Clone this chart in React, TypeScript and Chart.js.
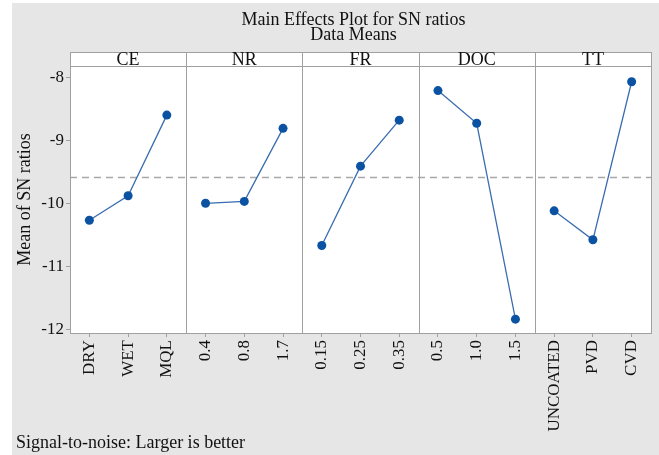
import React, { useEffect, useRef } from "react";
import { Chart, registerables } from "chart.js";

Chart.register(...registerables);

const FACTORS = ["CE", "NR", "FR", "DOC", "TT"];
const CE_LEVELS = ["DRY", "WET", "MQL"];
const NR_LEVELS = ["0.4", "0.8", "1.7"];
const FR_LEVELS = ["0.15", "0.25", "0.35"];
const DOC_LEVELS = ["0.5", "1.0", "1.5"];
const TT_LEVELS = ["UNCOATED", "PVD", "CVD"];

const CE_VALUES = [-10.26, -9.87, -8.59];
const NR_VALUES = [-9.99, -9.96, -8.8];
const FR_VALUES = [-10.66, -9.4, -8.67];
const DOC_VALUES = [-8.2, -8.72, -11.83];
const TT_VALUES = [-10.11, -10.57, -8.06];

const GRAND_MEAN = -9.58;
const Y_TICKS = [-12, -11, -10, -9, -8];
const Y_MIN = -12.05;
const Y_MAX = -7.81;

const TITLE_LINES = ["Main Effects Plot for SN ratios", "Data Means"];
const Y_TITLE = "Mean of SN ratios";
const FOOTER = "Signal-to-noise: Larger is better";

const LEVEL_GROUPS = [CE_LEVELS, NR_LEVELS, FR_LEVELS, DOC_LEVELS, TT_LEVELS];
const VALUE_GROUPS = [CE_VALUES, NR_VALUES, FR_VALUES, DOC_VALUES, TT_VALUES];

const FONT = "'Liberation Serif', 'Times New Roman', serif";
const FRAME = "#a0a0a0";
const HEADER_H = 14;

const panelPlugin = {
  id: "panels",
  beforeDraw(chart: any) {
    const { ctx, chartArea: ca } = chart;
    ctx.save();
    ctx.fillStyle = "#ffffff";
    ctx.fillRect(ca.left, ca.top - HEADER_H, ca.right - ca.left, ca.bottom - ca.top + HEADER_H);
    ctx.restore();
  },
  beforeDatasetsDraw(chart: any) {
    const { ctx, chartArea: ca, scales } = chart;
    const x = scales.x;
    const y = scales.y;
    ctx.save();
    // mean dashed line
    const my = Math.round(y.getPixelForValue(GRAND_MEAN)) + 0.5;
    ctx.strokeStyle = "#a8a8a8";
    ctx.lineWidth = 1.6;
    ctx.setLineDash([7, 5]);
    ctx.beginPath();
    ctx.moveTo(ca.left, my);
    ctx.lineTo(ca.right, my);
    ctx.stroke();
    ctx.setLineDash([]);

    // frame
    ctx.strokeStyle = FRAME;
    ctx.lineWidth = 1;
    const top = ca.top - HEADER_H;
    ctx.strokeRect(Math.round(ca.left) + 0.5, Math.round(top) + 0.5, Math.round(ca.right - ca.left), Math.round(ca.bottom - top));
    ctx.beginPath();
    ctx.moveTo(ca.left, Math.round(ca.top) + 0.5);
    ctx.lineTo(ca.right, Math.round(ca.top) + 0.5);
    ctx.stroke();

    // dividers
    const bounds: number[] = [ca.left];
    for (let i = 1; i < FACTORS.length; i++) {
      const bx = (x.getPixelForValue(3 * i - 1) + x.getPixelForValue(3 * i)) / 2;
      bounds.push(bx);
      ctx.beginPath();
      ctx.moveTo(Math.round(bx) + 0.5, top);
      ctx.lineTo(Math.round(bx) + 0.5, ca.bottom);
      ctx.stroke();
    }
    bounds.push(ca.right);

    // header text
    ctx.fillStyle = "#111";
    ctx.font = `18px ${FONT}`;
    ctx.textAlign = "center";
    ctx.textBaseline = "alphabetic";
    FACTORS.forEach((f, i) => {
      ctx.fillText(f, (bounds[i] + bounds[i + 1]) / 2, ca.top - 1);
    });
    ctx.restore();
  },
  afterDraw(chart: any) {
    const { ctx, chartArea: ca } = chart;
    ctx.save();
    ctx.fillStyle = "#111";
    ctx.font = `18px ${FONT}`;
    ctx.textAlign = "center";
    ctx.textBaseline = "alphabetic";
    const cx = (ca.left + ca.right) / 2 - 7;
    ctx.fillText(TITLE_LINES[0], cx, 25);
    ctx.fillText(TITLE_LINES[1], cx, 40);
    ctx.textAlign = "left";
    ctx.fillText(FOOTER, 16, 448);
    ctx.restore();
  },
};

export default function App() {
  const ref = useRef<HTMLCanvasElement>(null);

  useEffect(() => {
    const labels = LEVEL_GROUPS.flat();
    const datasets = FACTORS.map((f, i) => ({
      label: f,
      data: labels.map((_, j) => (Math.floor(j / 3) === i ? VALUE_GROUPS[i][j % 3] : null)),
      borderColor: "#3a6db0",
      borderWidth: 1.3,
      pointRadius: 4.5,
      pointHoverRadius: 4.5,
      pointBackgroundColor: "#0b52a3",
      pointBorderColor: "#0b52a3",
      pointBorderWidth: 0,
      spanGaps: false,
      tension: 0,
    }));

    const chart = new Chart(ref.current!, {
      type: "line",
      data: { labels, datasets },
      plugins: [panelPlugin],
      options: {
        responsive: false,
        animation: false,
        layout: { padding: { top: 66, right: 8, left: 0, bottom: 0 } },
        plugins: {
          legend: { display: false },
          tooltip: { enabled: false },
          title: { display: false },
        },
        scales: {
          x: {
            type: "category",
            offset: true,
            afterFit: (s: any) => {
              s.height = 122;
            },
            grid: {
              display: true,
              drawOnChartArea: false,
              drawTicks: true,
              tickLength: 4,
              color: FRAME,
              offset: false,
            },
            border: { display: false },
            ticks: {
              autoSkip: false,
              minRotation: 90,
              maxRotation: 90,
              padding: 3,
              color: "#111",
              font: { family: FONT, size: 17 },
            },
          },
          y: {
            type: "linear",
            min: Y_MIN,
            max: Y_MAX,
            afterFit: (s: any) => {
              s.width = 70;
            },
            afterBuildTicks: (s: any) => {
              s.ticks = Y_TICKS.map((v) => ({ value: v }));
            },
            grid: {
              display: true,
              drawOnChartArea: false,
              drawTicks: true,
              tickLength: 4,
              color: FRAME,
            },
            border: { display: false },
            ticks: {
              padding: 2,
              color: "#111",
              font: { family: FONT, size: 17 },
              callback: (v: any) => String(v),
            },
            title: {
              display: true,
              text: Y_TITLE,
              color: "#111",
              font: { family: FONT, size: 18 },
              padding: { top: 14, bottom: 0 },
            },
          },
        },
      },
    });
    return () => chart.destroy();
  }, []);

  return (
    <div style={{ position: "absolute", left: 0, top: 0, width: 659, height: 455, background: "#ffffff" }}>
      <div style={{ position: "absolute", left: 12, top: 3, width: 647, height: 452, background: "#e6e6e6" }} />
      <canvas ref={ref} width={659} height={455} style={{ position: "absolute", left: 0, top: 0 }} />
    </div>
  );
}
